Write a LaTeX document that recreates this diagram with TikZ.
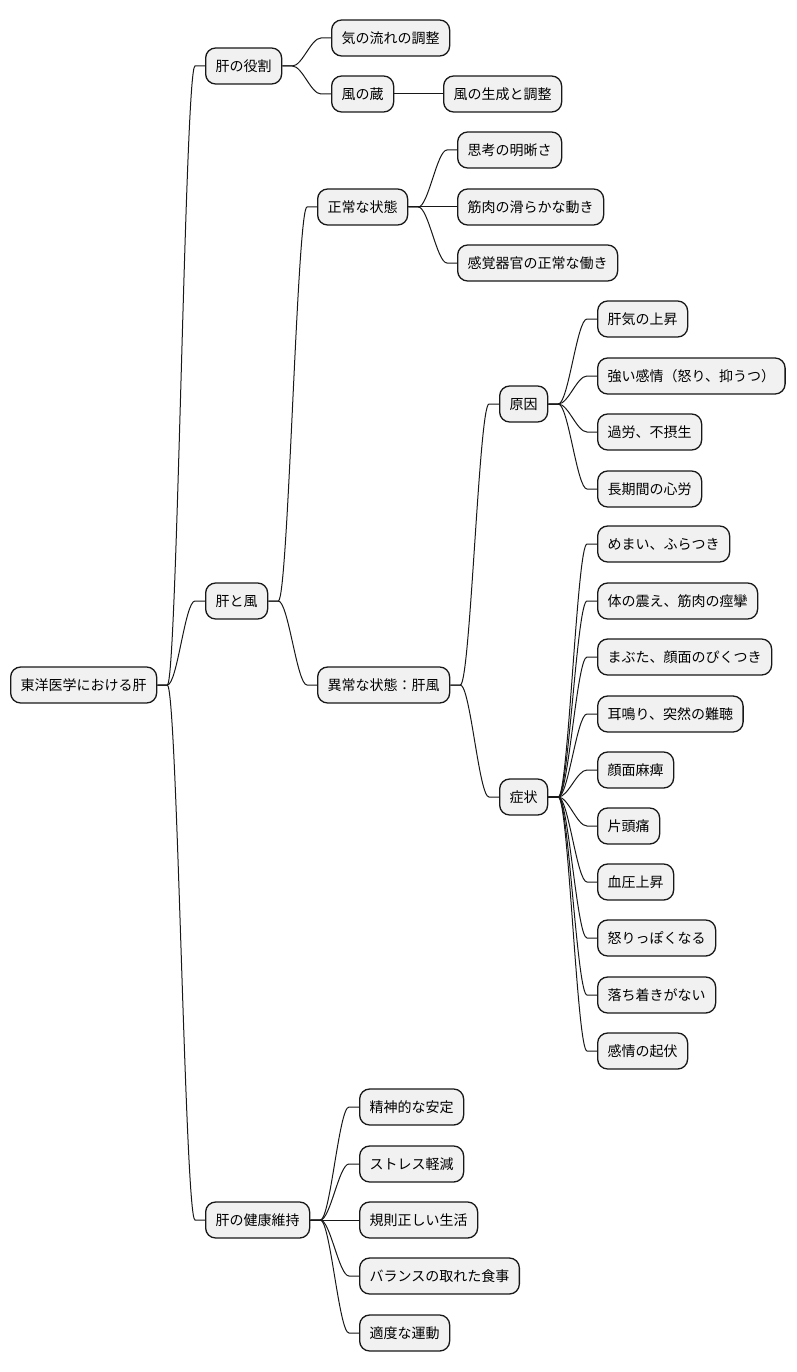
\documentclass[tikz,border=0pt]{standalone}
\usepackage{fontspec}
\setmainfont{Noto Sans CJK JP}
\usetikzlibrary{calc}
\definecolor{boxfill}{HTML}{F1F1F1}
\definecolor{boxline}{HTML}{181818}

\begin{document}
\begin{tikzpicture}[x=1pt, y=-1pt,
    topic/.style={draw=boxline, fill=boxfill, line width=1.3pt, rounded corners=10pt,
      minimum height=36pt, inner xsep=10pt, anchor=west,
      font=\fontsize{14pt}{16pt}\selectfont, text height=12pt, text depth=1.5pt},
    link/.style={draw=boxline, line width=1pt}]
	\useasboundingbox (0,0) rectangle (796,1372);

	% root and first level
	\node[topic] (root) at (10,685) {東洋医学における肝};
	\node[topic] (yakuwari) at (205,66) {肝の役割};
	\node[topic] (kaze) at (205,601) {肝と風};
	\node[topic] (iji) at (205,1220) {肝の健康維持};

	% role of the liver
	\node[topic] (nagare) at (331,38) {気の流れの調整};
	\node[topic] (kura) at (331,94) {風の蔵};
	\node[topic] (seisei) at (443,94) {風の生成と調整};

	% liver and wind
	\node[topic] (seijo) at (317,207) {正常な状態};
	\node[topic] (shiko) at (457,150) {思考の明晰さ};
	\node[topic] (kinniku) at (457,207) {筋肉の滑らかな動き};
	\node[topic] (kankaku) at (457,263) {感覚器官の正常な働き};
	\node[topic] (ijo) at (317,685) {異常な状態：肝風};
	\node[topic] (gen) at (499,404) {原因};
	\node[topic] (sho) at (499,797) {症状};

	% causes
	\node[topic] (c1) at (597,319) {肝気の上昇};
	\node[topic] (c2) at (597,376) {強い感情（怒り、抑うつ）};
	\node[topic] (c3) at (597,432) {過労、不摂生};
	\node[topic] (c4) at (597,489) {長期間の心労};

	% symptoms
	\node[topic] (s1) at (597,544) {めまい、ふらつき};
	\node[topic] (s2) at (597,601) {体の震え、筋肉の痙攣};
	\node[topic] (s3) at (597,657) {まぶた、顔面のぴくつき};
	\node[topic] (s4) at (597,714) {耳鳴り、突然の難聴};
	\node[topic] (s5) at (597,770) {顔面麻痺};
	\node[topic] (s6) at (597,826) {片頭痛};
	\node[topic] (s7) at (597,882) {血圧上昇};
	\node[topic] (s8) at (597,938) {怒りっぽくなる};
	\node[topic] (s9) at (597,995) {落ち着きがない};
	\node[topic] (s10) at (597,1051) {感情の起伏};

	% keeping the liver healthy
	\node[topic] (k1) at (359,1107) {精神的な安定};
	\node[topic] (k2) at (359,1164) {ストレス軽減};
	\node[topic] (k3) at (359,1220) {規則正しい生活};
	\node[topic] (k4) at (359,1276) {バランスの取れた食事};
	\node[topic] (k5) at (359,1333) {適度な運動};

	% curved branches
	\foreach \p/\c in {root/yakuwari, root/kaze, root/iji, yakuwari/nagare, yakuwari/kura,
	    kaze/seijo, kaze/ijo, seijo/shiko, seijo/kankaku,
	    ijo/gen, ijo/sho, gen/c1, gen/c2, gen/c3, gen/c4,
	    sho/s1, sho/s2, sho/s3, sho/s4, sho/s5, sho/s6, sho/s7, sho/s8, sho/s9, sho/s10,
	    iji/k1, iji/k2, iji/k4, iji/k5}
		\draw[link] (\p.east) -- ($(\p.east)+(10,0)$)
		  .. controls ($(\p.east)+(20,0)$) and ($(\c.west)+(-20,0)$) .. ($(\c.west)+(-10,0)$)
		  -- (\c.west);
	% straight branches
	\foreach \p/\c in {kura/seisei, seijo/kinniku, iji/k3}
		\draw[link] (\p.east) -- (\c.west);
\end{tikzpicture}
\end{document}
